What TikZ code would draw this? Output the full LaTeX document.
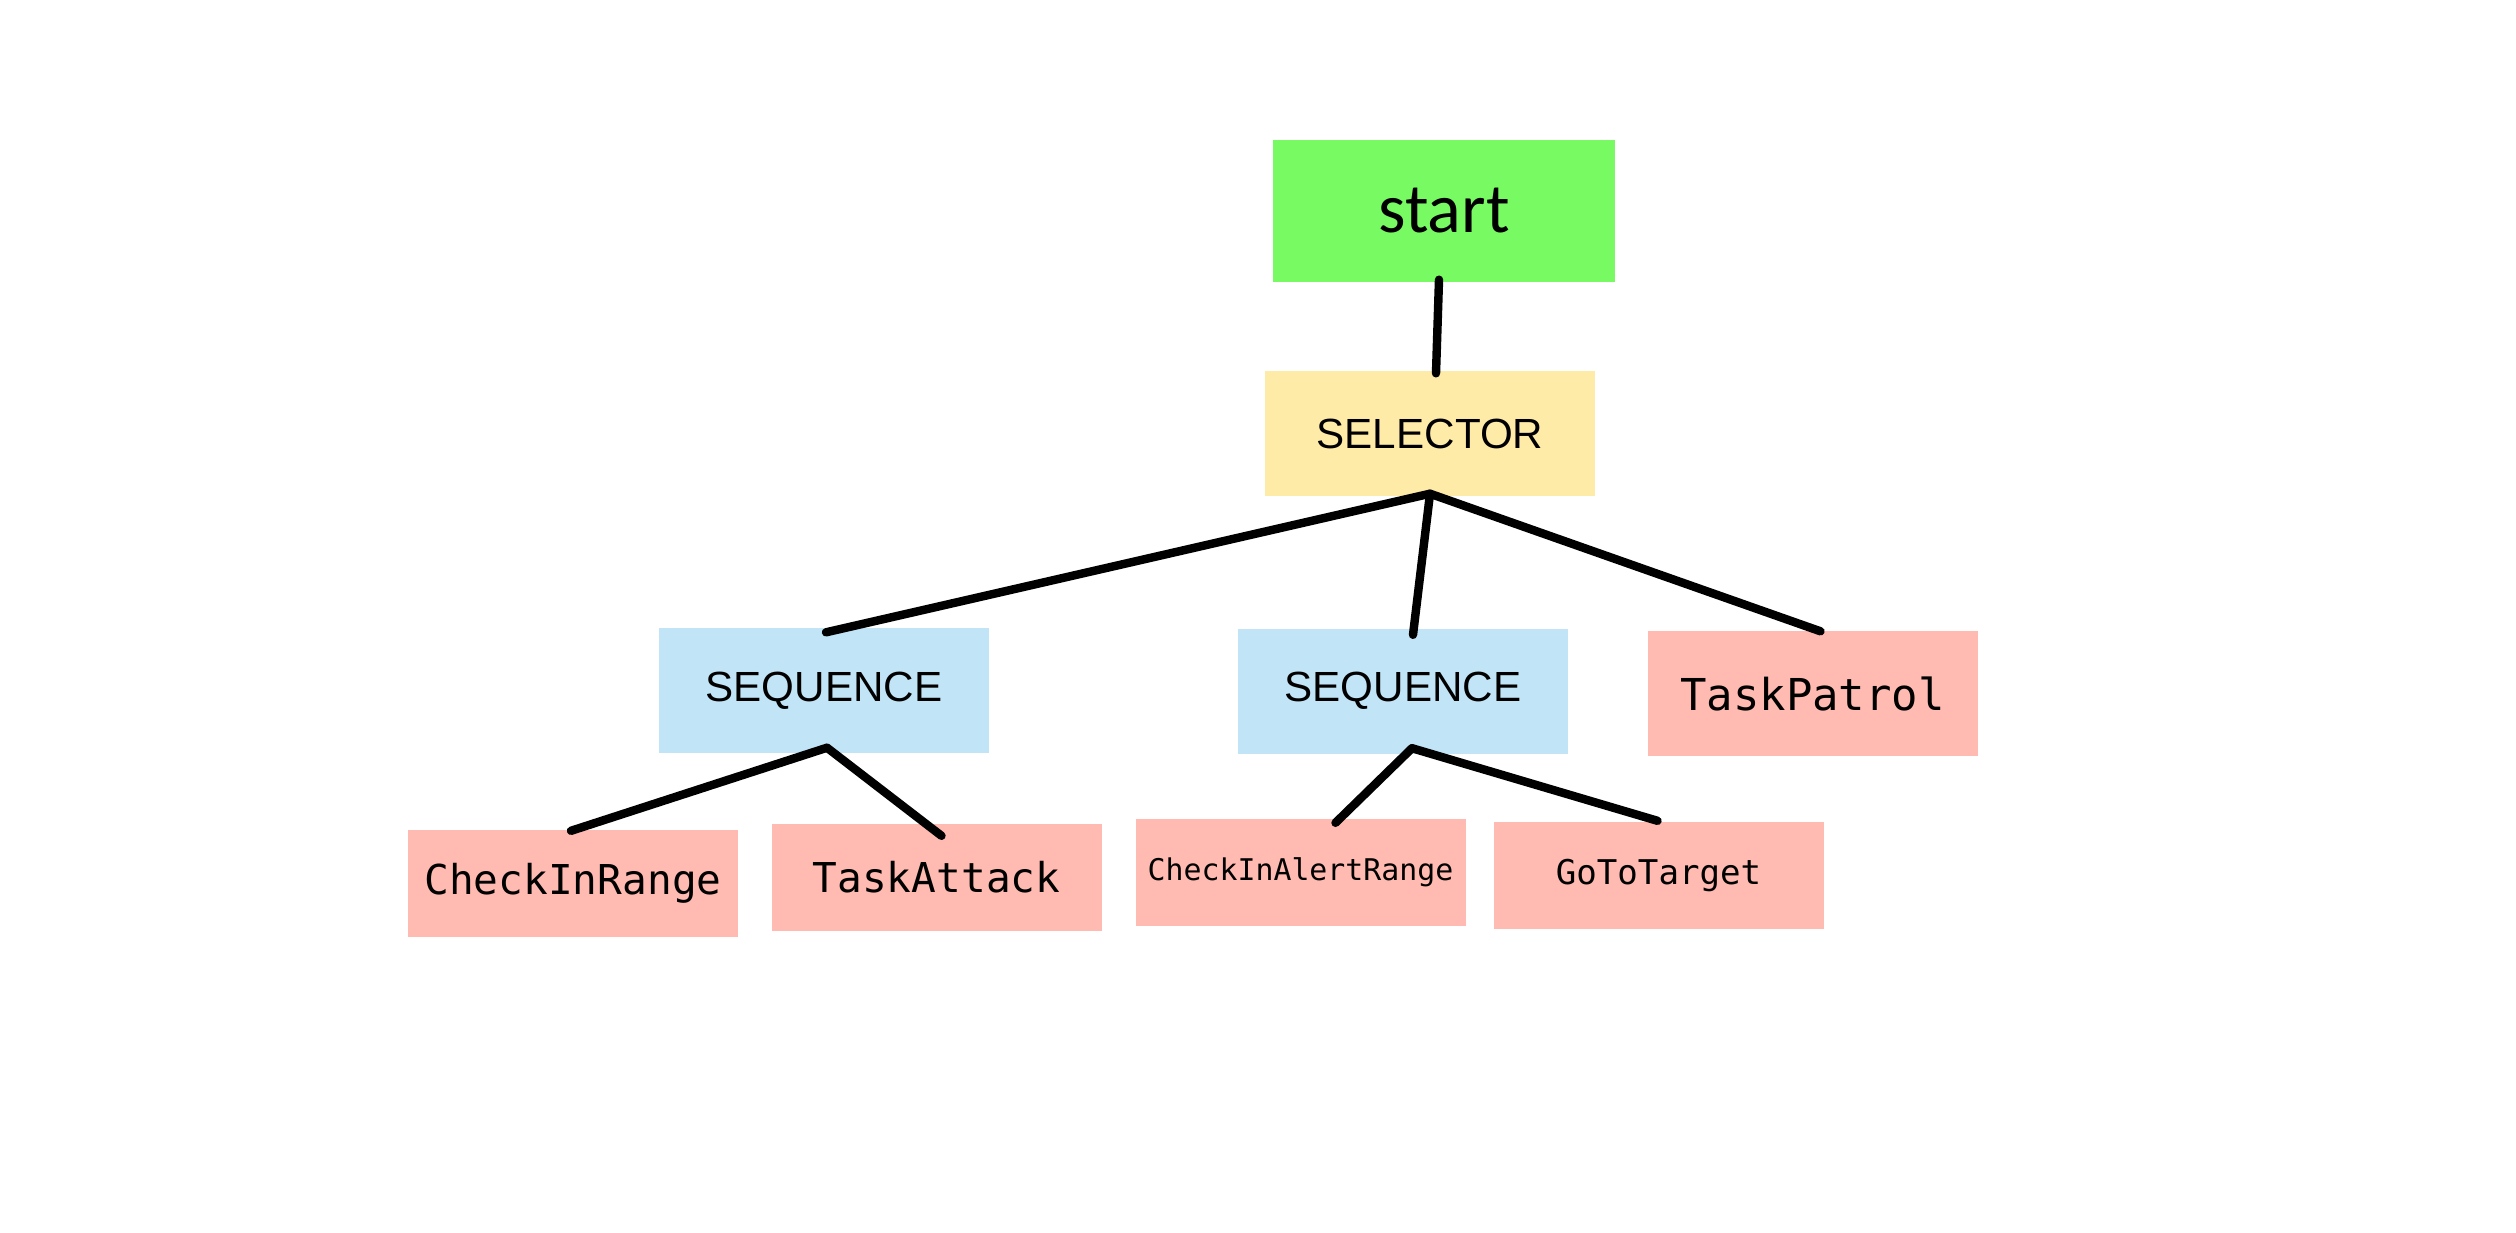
\documentclass[tikz,border=0pt]{standalone}
\usepackage{fontspec}
\newfontfamily\startfnt{Carlito}
\newfontfamily\labelfnt{Liberation Sans}
\newfontfamily\taskfnt{DejaVu Sans Mono}
\definecolor{startgreen}{HTML}{78FA62}
\definecolor{selyellow}{HTML}{FFEBA8}
\definecolor{seqblue}{HTML}{C1E4F6}
\definecolor{taskpink}{HTML}{FFBAB1}
\begin{document}
\begin{tikzpicture}[
  box/.style = {rectangle, inner sep=0pt, minimum width=3.3cm, minimum height=1.25cm},
  startbox/.style = {box, fill=startgreen, minimum width=3.42cm, minimum height=1.42cm,
    font=\startfnt\fontsize{20pt}{24pt}\selectfont},
  selbox/.style = {box, fill=selyellow, font=\labelfnt\fontsize{12pt}{14pt}\selectfont},
  seqbox/.style = {box, fill=seqblue, font=\labelfnt\fontsize{12pt}{14pt}\selectfont},
  taskbox/.style = {box, fill=taskpink, minimum height=1.07cm,
    font=\taskfnt\fontsize{11.7pt}{14pt}\selectfont},
  link/.style = {line width=2.4pt, line cap=round}]
\useasboundingbox (0,0) rectangle (25.16,-12.32);

\node[startbox] (start) at (14.44,-2.11) {start};
\node[selbox] (sel) at (14.30,-4.335) {SELECTOR};
\node[seqbox] (seq1) at (8.24,-6.905) {SEQUENCE};
\node[seqbox] (seq2) at (14.03,-6.91) {SEQUENCE};
\node[taskbox, minimum height=1.25cm, font=\taskfnt\fontsize{12.5pt}{14pt}\selectfont]
  (patrol) at (18.125,-6.935) {TaskPatrol};
\node[taskbox] (inrange) at (5.73,-8.83) {CheckInRange};
\node[taskbox] (attack) at (9.365,-8.77) {TaskAttack};
\node[taskbox, font=\taskfnt\fontsize{8.5pt}{10pt}\selectfont]
  (alert) at (13.005,-8.72) {CheckInAlertRange};
\node[taskbox, font=\taskfnt\fontsize{9.7pt}{12pt}\selectfont]
  (goto) at (16.585,-8.75) {GoToTarget};

\draw[link] ([xshift=-0.05cm,yshift=0.03cm]start.south) -- ([xshift=0.06cm,yshift=-0.03cm]sel.north);
\draw[link] ([yshift=0.03cm]sel.south) -- ([xshift=0.02cm,yshift=-0.05cm]seq1.north);
\draw[link] ([yshift=0.03cm]sel.south) -- ([xshift=0.1cm,yshift=-0.07cm]seq2.north);
\draw[link] ([yshift=0.03cm]sel.south) -- ([xshift=0.08cm,yshift=-0.01cm]patrol.north);
\draw[link] ([xshift=0.03cm,yshift=0.06cm]seq1.south) -- ([xshift=-0.02cm,yshift=-0.02cm]inrange.north);
\draw[link] ([xshift=0.03cm,yshift=0.06cm]seq1.south) -- ([xshift=0.05cm,yshift=-0.13cm]attack.north);
\draw[link] ([xshift=0.09cm,yshift=0.06cm]seq2.south) -- ([xshift=0.35cm,yshift=-0.05cm]alert.north);
\draw[link] ([xshift=0.09cm,yshift=0.06cm]seq2.south) -- ([xshift=-0.01cm]goto.north);
\end{tikzpicture}
\end{document}
